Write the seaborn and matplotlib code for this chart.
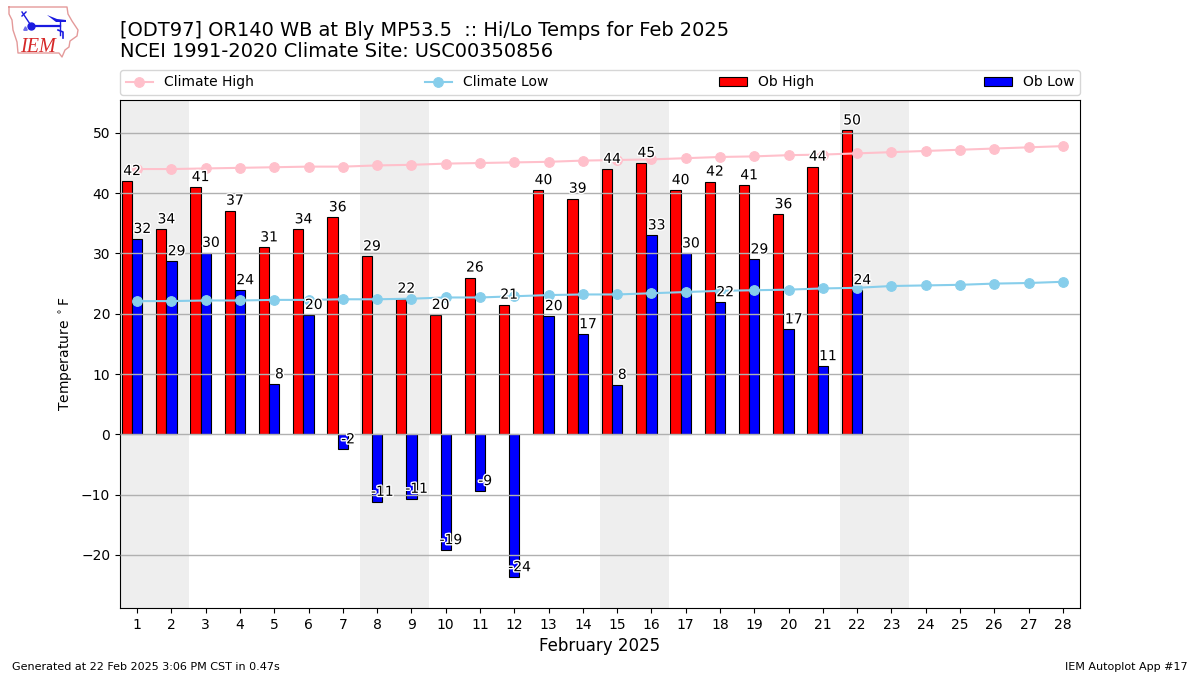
import matplotlib
matplotlib.use("Agg")
import matplotlib.pyplot as plt
import matplotlib.patheffects as pe
import seaborn as sns

days = list(range(1, 29))
ob_days = list(range(1, 23))
ob_high = [42.0, 34.0, 41.0, 37.1, 31.0, 34.0, 36.0, 29.5, 22.5, 19.8, 26.0,
           21.5, 40.5, 39.1, 44.0, 45.0, 40.5, 41.9, 41.3, 36.5, 44.4, 50.4]
ob_low = [32.4, 28.7, 30.1, 23.9, 8.3, 19.8, -2.5, -11.2, -10.7, -19.2, -9.4,
          -23.7, 19.6, 16.6, 8.2, 33.0, 30.0, 21.9, 29.0, 17.4, 11.3, 23.9]
high_labels = [42, 34, 41, 37, 31, 34, 36, 29, 22, 20, 26,
               21, 40, 39, 44, 45, 40, 42, 41, 36, 44, 50]
low_labels = [32, 29, 30, 24, 8, 20, -2, -11, -11, -19, -9,
              -24, 20, 17, 8, 33, 30, 22, 29, 17, 11, 24]
climate_high = [44.0, 44.0, 44.1, 44.2, 44.3, 44.4, 44.4, 44.6, 44.7, 44.9,
                45.0, 45.1, 45.2, 45.4, 45.5, 45.6, 45.8, 46.0, 46.1, 46.3,
                46.4, 46.6, 46.8, 47.0, 47.2, 47.4, 47.6, 47.8]
climate_low = [22.1, 22.1, 22.2, 22.2, 22.3, 22.3, 22.4, 22.4, 22.5, 22.7,
               22.7, 22.9, 23.1, 23.2, 23.2, 23.4, 23.6, 23.8, 23.9, 24.0,
               24.2, 24.3, 24.6, 24.7, 24.8, 25.0, 25.1, 25.3]
weekend_starts = [1, 8, 15, 22]

fig = plt.figure(figsize=(12, 6.75), dpi=100)
ax = fig.add_axes([120 / 1200, 1 - 608 / 675, 960 / 1200, 508 / 675])

# Climate lines first so they land first in the legend
for vals, color, name in [(climate_high, "pink", "Climate High"),
                          (climate_low, "skyblue", "Climate Low")]:
    sns.lineplot(x=days, y=vals, color=color, marker="o", markersize=7,
                 markeredgecolor=color, linewidth=1.5, label=name, zorder=4,
                 errorbar=None, ax=ax)

# Observed bars, red sits left of the blue one
sns.barplot(x=[d - 0.3 for d in ob_days], y=ob_high, native_scale=True, width=0.3,
            color="red", saturation=1, edgecolor="black", linewidth=0.8,
            label="Ob High", errorbar=None, ax=ax)
sns.barplot(x=ob_days, y=ob_low, native_scale=True, width=0.3,
            color="blue", saturation=1, edgecolor="black", linewidth=0.8,
            label="Ob Low", errorbar=None, ax=ax)

for start in weekend_starts:
    ax.axvspan(start - 0.5, start + 1.5, color="#eeeeee", zorder=0, linewidth=0)

# Labels centred a little right of the bar, one degree past the value
halo = [pe.withStroke(linewidth=2, foreground="white")]
for d, h, hl, l, ll in zip(ob_days, ob_high, high_labels, ob_low, low_labels):
    ax.text(d - 0.15, h + 1, str(hl), ha="center", va="baseline", fontsize=10,
            zorder=6, path_effects=halo)
    ax.text(d + 0.15, l + 1, str(ll), ha="center", va="baseline", fontsize=10,
            zorder=6, path_effects=halo)

ax.set_xlim(0.5, 28.5)
ax.set_ylim(-28.8, 55.45)
ax.set_xticks(days)
ax.set_xticklabels([str(d) for d in days])
ax.set_yticks(range(-20, 60, 10))
ax.set_axisbelow(False)
ax.grid(True, axis="y", color="#b0b0b0", linewidth=1)
ax.set_xlabel("February 2025", fontsize=12)
ax.set_ylabel(r"Temperature $^\circ$F", fontsize=10)

handles, labels = ax.get_legend_handles_labels()
ax.legend(handles, labels, loc="lower left", bbox_to_anchor=(0, 1.01, 1, 0.05),
          mode="expand", ncol=4, borderaxespad=0, fontsize=10)

fig.text(120 / 1200, 1 - 36 / 675, "[ODT97] OR140 WB at Bly MP53.5  :: Hi/Lo Temps for Feb 2025",
         fontsize=13.98, ha="left", va="baseline")
fig.text(120 / 1200, 1 - 57 / 675, "NCEI 1991-2020 Climate Site: USC00350856",
         fontsize=13.98, ha="left", va="baseline")
fig.text(12 / 1200, 1 - 670 / 675, "Generated at 22 Feb 2025 3:06 PM CST in 0.47s",
         fontsize=8, ha="left", va="baseline")
fig.text(1188 / 1200, 1 - 670 / 675, "IEM Autoplot App #17",
         fontsize=8, ha="right", va="baseline")

# Logo, drawn in pixel coordinates on its own overlay
logo = fig.add_axes([0, 0, 1, 1], zorder=-1)
logo.set_xlim(0, 1200)
logo.set_ylim(675, 0)
logo.axis("off")
outline_x = [9, 67, 68, 72, 78, 77, 70, 69, 65, 62, 59, 18, 17, 13, 12, 9, 9]
outline_y = [7, 7, 14, 21, 30, 36, 41, 47, 50, 57, 53, 53, 42, 30, 20, 14, 7]
logo.plot(outline_x, outline_y, color="#e49a9a", linewidth=1)
logo.plot([31, 60], [26, 26], color="#1a1ae0", linewidth=1.6)
logo.plot([22, 30], [12, 24], color="#1a1ae0", linewidth=1)
logo.plot([22, 26], [16, 12], color="#1a1ae0", linewidth=1)
logo.fill([47, 57, 66, 66, 56], [15, 19, 20, 22, 22], color="#1a1ae0", linewidth=0)
logo.plot([60, 60], [21, 35], color="#1a1ae0", linewidth=1)
logo.plot([58, 63, 63], [30, 32, 38], color="#1a1ae0", linewidth=1.2)
logo.plot([31], [26], "o", color="#1a1ae0", markersize=5)
logo.plot([25], [28], "^", color="#6a6ae8", markersize=2.5)
logo.text(38, 52, "IEM", family="Liberation Serif", style="italic", color="#d62828",
          fontsize=14.5, ha="center", va="baseline")

fig.savefig("out.png", dpi=100)
